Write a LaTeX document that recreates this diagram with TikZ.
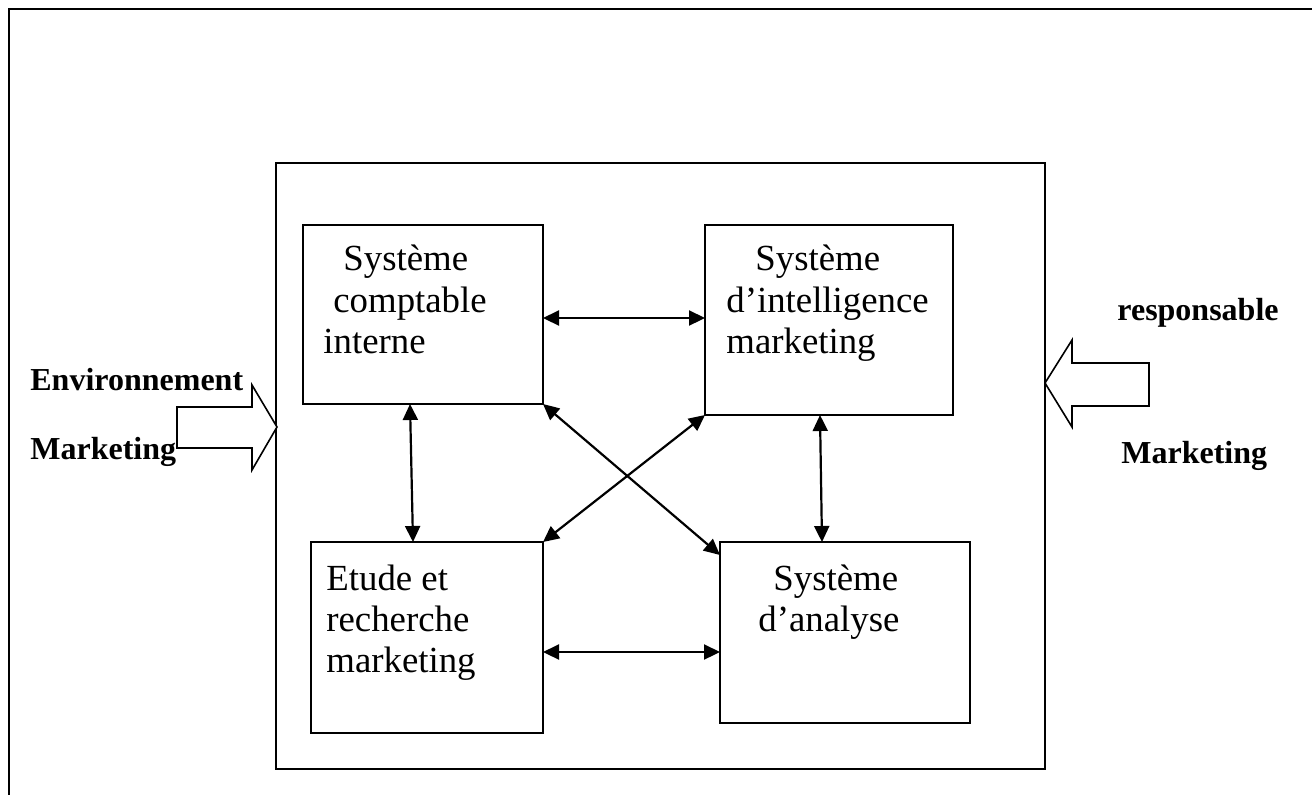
\documentclass[tikz,border=0pt]{standalone}
\usepackage{fontspec}
\setmainfont{Liberation Serif}
\usetikzlibrary{arrows.meta,calc}
\begin{document}
\begin{tikzpicture}[x=0.5pt,y=-0.5pt,
  frameline/.style={draw,line width=1pt},
  sysbox/.style={draw,line width=1pt,rectangle,inner sep=0pt,outer sep=0pt},
  boxtext/.style={anchor=base west,inner sep=0pt,font=\fontsize{18.4}{20}\selectfont},
  sidetext/.style={anchor=base west,inner sep=0pt,font=\fontsize{16}{18}\selectfont\bfseries},
  link/.style={line width=1.1pt,{Triangle[length=8pt,width=7.5pt]}-{Triangle[length=8pt,width=7.5pt]}},
  blockarrow/.style={draw,line width=0.8pt,fill=white,line join=miter}]
\useasboundingbox (0,0) rectangle (1312,794);

% page frame (runs off the right and bottom edges)
\draw[frameline] (9,820) -- (9,9) -- (1330,9);

% marketing information system frame
\node[sysbox,minimum width=384.5pt,minimum height=303pt] (sim) at (660.5,466) {};

% the four sub-systems
\node[sysbox,minimum width=120pt,minimum height=89.5pt] (A) at (423,314.5) {};
\node[sysbox,minimum width=124pt,minimum height=95pt]   (B) at (829,320) {};
\node[sysbox,minimum width=116pt,minimum height=95.5pt] (C) at (427,637.5) {};
\node[sysbox,minimum width=125pt,minimum height=90.5pt] (D) at (845,632.5) {};

\node[boxtext] (a1) at (343,270) {Système};
\node[boxtext] (a2) at (333,312) {comptable};
\node[boxtext] (a3) at (323,353) {interne};

\node[boxtext] (b1) at (755,270) {Système};
\node[boxtext] (b2) at (726,312) {d’intelligence};
\node[boxtext] (b3) at (726,353) {marketing};

\node[boxtext] (c1) at (326,590) {Etude et};
\node[boxtext] (c2) at (326,631) {recherche};
\node[boxtext] (c3) at (326,672) {marketing};

\node[boxtext] (d1) at (773,590) {Système};
\node[boxtext] (d2) at (758,631) {d’analyse};

% links between sub-systems
\coordinate (ab) at ($(A.north east)+(0,93)$);
\coordinate (cd) at ($(C.north east)+(0,110)$);
\draw[link] (ab) -- (ab -| B.west);
\draw[link] (cd) -- (cd -| D.west);
\draw[link] ($(A.south west)+(107,0)$) -- ($(C.north west)+(102,0)$);
\draw[link] ($(B.south west)+(115,0)$) -- ($(D.north west)+(102,0)$);
\draw[link] (A.south east) -- ($(D.north west)+(0,13)$);
\draw[link] (B.south west) -- (C.north east);

% incoming block arrows
\draw[blockarrow] (177,407) -- (252,407) -- (252,385) -- (277,427) -- (252,470) -- (252,448) -- (177,448) -- cycle;
\draw[blockarrow] (1149,363) -- (1072,363) -- (1072,340) -- (1045,383) -- (1072,427) -- (1072,406) -- (1149,406) -- cycle;

\node[sidetext] (env1) at (30,390) {Environnement};
\node[sidetext] (env2) at (30,459) {Marketing};
\node[sidetext] (resp1) at (1117,320) {responsable};
\node[sidetext] (resp2) at (1121,463) {Marketing};
\end{tikzpicture}
\end{document}
